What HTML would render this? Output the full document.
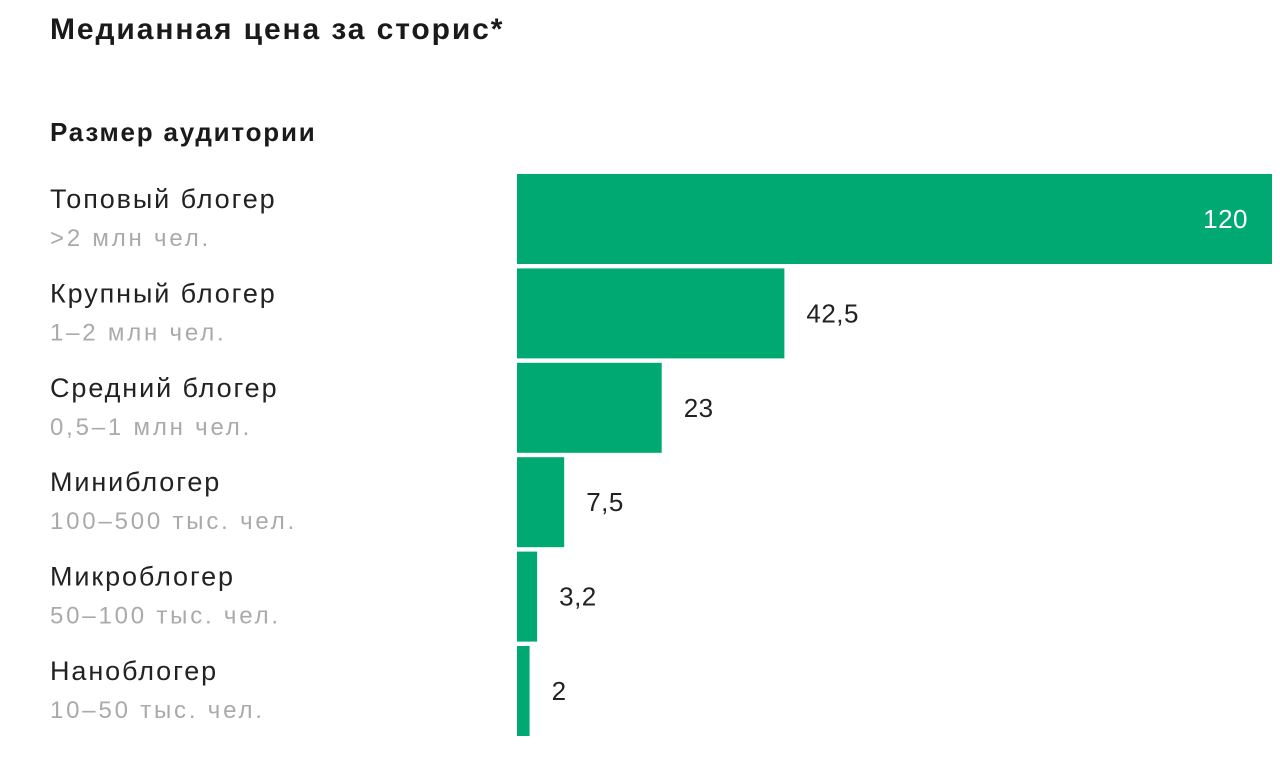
<!DOCTYPE html>
<html><head><meta charset="utf-8">
<style>
html,body{margin:0;padding:0;background:#fff;}
body{width:1280px;height:763px;position:relative;overflow:hidden;font-family:"Liberation Sans",sans-serif;}
.t{position:absolute;white-space:nowrap;}
</style></head>
<body>
<div class="t" style="left:50px;top:13px;font-size:30px;letter-spacing:1.9px;font-weight:bold;color:#1a1a1a;">Медианная цена за сторис*</div>
<div class="t" style="left:50px;top:117px;font-size:26px;letter-spacing:1.8px;font-weight:bold;color:#1a1a1a;">Размер аудитории</div>
<svg id="chart" width="1280" height="763" style="position:absolute;left:0;top:0;"></svg>
<script>
const categories=["Топовый блогер","Крупный блогер","Средний блогер","Миниблогер","Микроблогер","Наноблогер"];
const subLabels=[">2 млн чел.","1–2 млн чел.","0,5–1 млн чел.","100–500 тыс. чел.","50–100 тыс. чел.","10–50 тыс. чел."];
const values=[120,42.5,23,7.5,3.2,2];
const valueLabels=["120","42,5","23","7,5","3,2","2"];
const NS="http://www.w3.org/2000/svg";
const svg=document.getElementById('chart');
const x0=517,x1=1272,maxV=120;
const xScale=v=>x0+(x1-x0)*v/maxV;
const y0=174,step=94.4,bh=90;
const yScale=i=>y0+i*step;
function mk(tag,attrs,txt){const e=document.createElementNS(NS,tag);for(const k in attrs)e.setAttribute(k,attrs[k]);if(txt!==undefined)e.textContent=txt;svg.appendChild(e);return e;}
values.forEach((v,i)=>{
  const y=yScale(i);
  const r=mk('rect',{x:x0,y:y,width:xScale(v)-x0,height:bh,fill:'#00a971'});
  
  
  const inside=v===maxV;
  const t=mk('text',{x:inside?xScale(v)-24:xScale(v)+22,y:y+bh/2+9,'font-size':26,'letter-spacing':0.5,fill:inside?'#fff':'#222','text-anchor':inside?'end':'start','font-family':'Liberation Sans, sans-serif'},valueLabels[i]);
  
  
  const n=mk('text',{x:50,y:y+34,'font-size':27,'letter-spacing':1.9,fill:'#222','font-family':'Liberation Sans, sans-serif'},categories[i]);
  
  
  const s=mk('text',{x:50,y:y+72,'font-size':24,'letter-spacing':2.8,fill:'#aaa','font-family':'Liberation Sans, sans-serif'},subLabels[i]);
  
  
});
</script>
</body></html>
